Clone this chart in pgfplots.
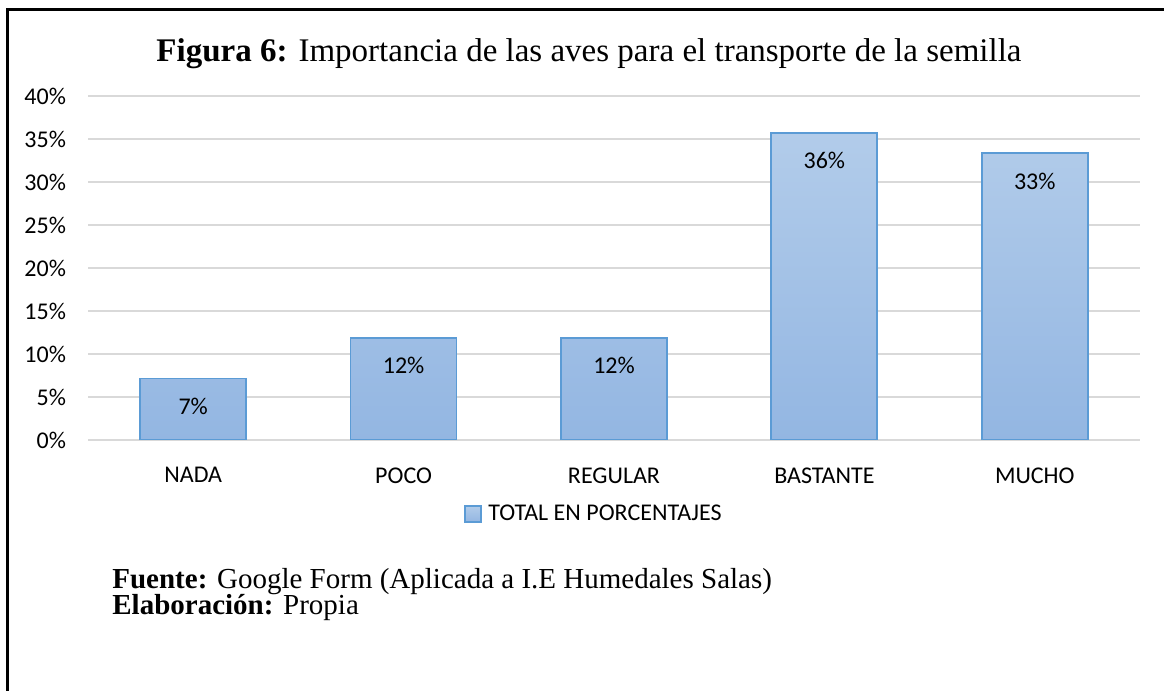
\documentclass[border=0pt]{standalone}
\usepackage{pgfplots}
\pgfplotsset{compat=1.18}
\usepackage{fontspec}
\setmainfont{Liberation Serif}
\newfontfamily\calibri{Carlito}
\definecolor{gridc}{HTML}{D9D9D9}
\definecolor{bartop}{HTML}{B2CCEA}
\definecolor{barbot}{HTML}{93B6E2}
\definecolor{barline}{HTML}{5B9BD5}
\begin{document}
\begin{tikzpicture}
\useasboundingbox (0,0) rectangle (582pt,345.5pt);
\fill[white] (0,0) rectangle (582pt,345.5pt);
\draw[line width=1.5pt,black] (3.5pt,-10pt) -- (3.5pt,340.5pt) -- (600pt,340.5pt);
\begin{axis}[
  at={(44pt,125.5pt)}, anchor=south west,
  scale only axis, width=526pt, height=172pt,
  xmin=-0.5, xmax=4.5, ymin=0, ymax=40,
  xtick={0,1,2,3,4},
  xticklabels={NADA,POCO,REGULAR,BASTANTE,MUCHO},
  ytick={0,5,...,40},
  /pgf/number format/assume math mode=true,
  yticklabel={\pgfmathprintnumber{\tick}\%},
  ymajorgrids, grid style={gridc, line width=1pt},
  axis line style={draw=none},
  tick style={draw=none},
  ticklabel style={font=\calibri\fontsize{12}{14}\selectfont, text=black},
  yticklabel style={anchor=east, xshift=-7.5pt},
  xticklabel style={yshift=-6pt},
  ybar, bar width=53pt,
  point meta=explicit symbolic,
  nodes near coords,
  every node near coord/.style={anchor=center, yshift=-14pt, font=\calibri\fontsize{12}{14}\selectfont, text=black},
  legend style={at={(0.482,-0.215)}, anchor=center, draw=none, fill=none,
    font=\calibri\fontsize{12}{14}\selectfont, column sep=1pt},
  legend image code/.code={\draw[#1] (0pt,-4pt) rectangle (8pt,4pt);},
]
\addplot[draw=barline, line width=0.9pt, top color=bartop, bottom color=barbot]
  coordinates {(0,7.14)[7\%] (1,11.9)[12\%] (2,11.9)[12\%] (3,35.71)[36\%] (4,33.33)[33\%]};
\addlegendentry{TOTAL EN PORCENTAJES}
\end{axis}
\node[anchor=base, font=\fontsize{16.5}{19}\selectfont] at (294.5pt,314.5pt) {\textbf{Figura 6:} Importancia de las aves para el transporte de la semilla};
\node[anchor=base west, font=\fontsize{14.5}{17}\selectfont, inner sep=0pt] at (56pt,51pt) {\textbf{Fuente:} Google Form (Aplicada a I.E Humedales Salas)};
\node[anchor=base west, font=\fontsize{14.5}{17}\selectfont, inner sep=0pt] at (56pt,38pt) {\textbf{Elaboración:} Propia};
\end{tikzpicture}
\end{document}
